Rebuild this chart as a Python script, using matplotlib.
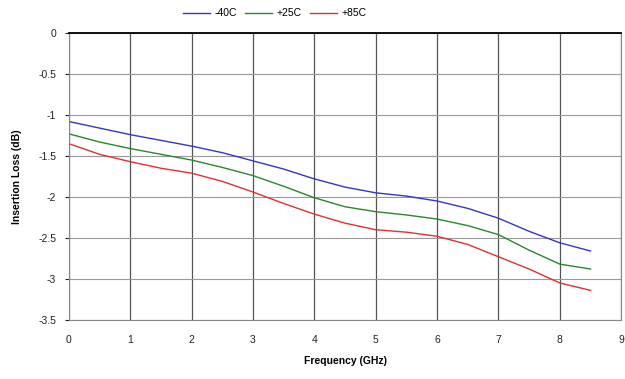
import matplotlib.pyplot as plt
import numpy as np

plt.rcParams['font.family'] = ['Liberation Sans', 'DejaVu Sans']

freq = [0, 0.5, 1, 1.5, 2, 2.5, 3, 3.5, 4, 4.5, 5, 5.5, 6, 6.5, 7, 7.5, 8, 8.5]
loss_m40 = [-1.08, -1.16, -1.24, -1.31, -1.38, -1.46, -1.56, -1.66, -1.78, -1.88,
            -1.95, -1.99, -2.05, -2.14, -2.26, -2.42, -2.56, -2.66]
loss_p25 = [-1.23, -1.33, -1.41, -1.48, -1.55, -1.64, -1.74, -1.87, -2.01, -2.12,
            -2.18, -2.22, -2.27, -2.35, -2.46, -2.65, -2.82, -2.88]
loss_p85 = [-1.35, -1.48, -1.57, -1.65, -1.71, -1.81, -1.94, -2.08, -2.21, -2.32,
            -2.40, -2.43, -2.48, -2.58, -2.73, -2.88, -3.05, -3.14]

fig = plt.figure(figsize=(6.25, 3.79), dpi=100)
ax = fig.add_axes([0.110, 0.156, 0.884, 0.757])

ax.plot(freq, loss_m40, color='#3535c8', lw=1.0, label='-40C')
ax.plot(freq, loss_p25, color='#2a872a', lw=1.0, label='+25C')
ax.plot(freq, loss_p85, color='#e03030', lw=1.0, label='+85C')

ax.set_xlim(0, 9)
ax.set_ylim(-3.5, 0)
ax.set_xticks(np.arange(0, 10, 1))
ax.set_yticks(np.arange(-3.5, 0.01, 0.5))
ax.set_yticklabels(['-3.5', '-3', '-2.5', '-2', '-1.5', '-1', '-0.5', '0'])

ax.grid(axis='x', color='#555555', lw=0.9)
ax.grid(axis='y', color='#999999', lw=0.8)
ax.set_axisbelow(True)

for s in ['left', 'bottom', 'right']:
    ax.spines[s].set_color('#888888')
    ax.spines[s].set_linewidth(0.8)
ax.spines['top'].set_color('black')
ax.spines['top'].set_linewidth(1.3)

ax.tick_params(axis='both', labelsize=7.5, colors='#222222', length=3, width=0.8)
ax.tick_params(axis='y', pad=6)
ax.tick_params(axis='x', length=0, pad=11)

ax.set_xlabel('Frequency (GHz)', fontsize=7.5, fontweight='bold', labelpad=8)
ax.set_ylabel('Insertion Loss (dB)', fontsize=7.5, fontweight='bold', labelpad=12)

ax.legend(loc='lower center', bbox_to_anchor=(0.373, 1.0), ncol=3, frameon=False,
          fontsize=7.5, handlelength=2.6, columnspacing=0.8, handletextpad=0.4,
          borderaxespad=1.0)

fig.savefig('out.png', dpi=100)
